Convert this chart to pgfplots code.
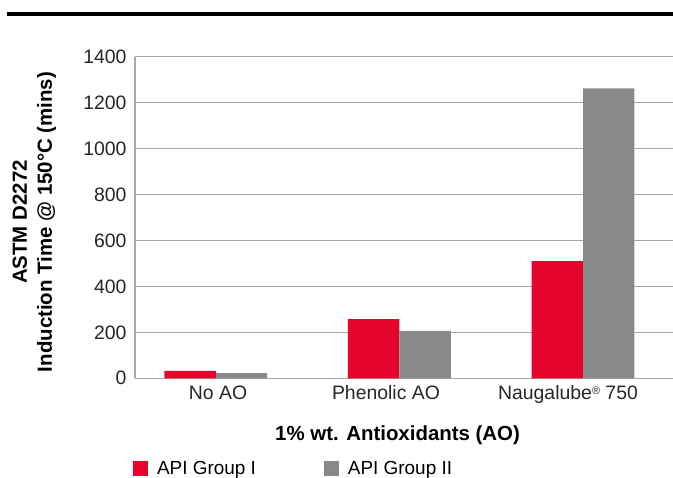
\documentclass[border=0pt]{standalone}
\usepackage{fontspec}
\setmainfont{Liberation Sans}
\usepackage{pgfplots}
\pgfplotsset{compat=1.18}
\definecolor{apired}{HTML}{E4032A}
\definecolor{apigray}{HTML}{898989}
\definecolor{gridgray}{HTML}{A8A8A8}
\begin{document}
\begin{tikzpicture}[x=1bp,y=1bp]
\begin{axis}[
  at={(135bp,99.7bp)}, anchor=south west,
  scale only axis, width=538bp, height=321.6bp,
  ybar=0pt, bar width=0.28,
  xmin=-0.44, xmax=2.49,
  ymin=0, ymax=1400,
  ytick={0,200,...,1400},
  xtick={0.0125,0.927,1.918},
  xticklabels={No AO, Phenolic AO, Naugalube\raisebox{0.55ex}{\fontsize{11}{11}\selectfont ®} 750},
  axis x line=bottom, axis y line=left,
  axis line style={-, draw=gridgray, line width=1.2bp},
  major tick length=0pt,
  ymajorgrids, grid style={draw=gridgray, line width=1.2bp},
  /pgf/number format/assume math mode=true,
  /pgf/number format/1000 sep={},
  ticklabel style={font=\fontsize{19.5}{22}\selectfont, text=black!85},
  yticklabel style={xshift=-5bp},
  xticklabel style={yshift=-4bp},
  xlabel={1\% wt. Antioxidants (AO)},
  xlabel style={at={(axis description cs:0.488,-0.176)}, anchor=center, font=\fontsize{20.5}{24}\selectfont\bfseries},
  ylabel={ASTM D2272\\Induction Time @ 150°C (mins)},
  ylabel style={at={(axis description cs:-0.187,0.486)}, anchor=center, align=center, font=\fontsize{20.5}{25}\selectfont\bfseries},
  legend columns=2,
  legend style={at={(axis description cs:-0.004,-0.252)}, anchor=north west, draw=none, fill=none,
    font=\fontsize{19}{22}\selectfont, inner sep=0pt,
    /tikz/every odd column/.append style={column sep=7bp},
    /tikz/every even column/.append style={column sep=66bp}},
  legend image code/.code={\fill[#1] (0bp,-7.5bp) rectangle (15bp,7.5bp);},
]
\addplot[fill=apired, draw=none] coordinates {(0,32) (1,258) (2,510)};
\addplot[fill=apigray, draw=none] coordinates {(0,23) (1,206) (2,1262)};
\legend{API Group I, API Group II}
\end{axis}
\draw[line width=4bp, black] (7bp,464bp) -- (673bp,464bp);
\pgfresetboundingbox
\useasboundingbox (0,0) rectangle (673bp,478bp);
\end{tikzpicture}
\end{document}
